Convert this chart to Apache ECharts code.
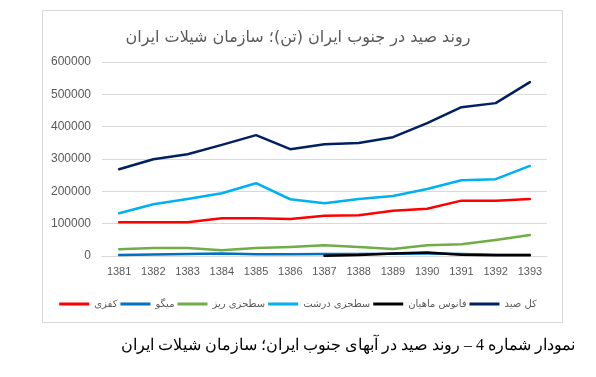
<!DOCTYPE html>
<html>
<head>
<meta charset="utf-8">
<script src="https://cdn.jsdelivr.net/npm/echarts@6/dist/echarts.min.js"></script>
<style>
html,body{margin:0;padding:0;background:#fff;}
#chart{width:596px;height:377px;}
</style>
</head>
<body>
<div id="chart"></div>
<script>
const categories = ['1381','1382','1383','1384','1385','1386','1387','1388','1389','1390','1391','1392','1393'];
const seriesNames = ['کفزی','میگو','سطحزی ریز','سطحزی درشت','فانوس ماهیان','کل صید'];
const kafzi   = [104300,104300,104300,116700,116700,114600,124800,126000,140200,146400,171200,171200,176500];
const meygu   = [3000,5000,6000,8000,5500,5500,6000,6000,7000,7500,6000,4000,4000];
const riz     = [20700,24800,24800,17600,24800,27900,33100,27900,21700,33100,36200,49500,65000];
const dorosht = [132200,160100,176500,194100,225100,175500,163200,176500,185800,207400,234400,237500,278600];
const fanus   = [null,null,null,null,null,null,1000,3000,8000,11000,4000,2000,2000];
const kol     = [268400,299400,314900,343700,373700,330300,345800,349800,367500,410800,460400,472800,537800];
const yTicks  = [0,100000,200000,300000,400000,500000,600000];
const colors  = ['#FF0000','#0070C0','#70AD47','#00B0F0','#000000','#002060'];
const title   = 'روند صید در جنوب ایران (تن)؛ سازمان شیلات ایران';
const caption = 'نمودار شماره 4 – روند صید در آبهای جنوب ایران؛ سازمان شیلات ایران';

const dataList = [kafzi, meygu, riz, dorosht, fanus, kol];
const chart = echarts.init(document.getElementById('chart'));
chart.setOption({
  animation: false,
  backgroundColor: '#fff',
  title: {
    text: title, left: 'center', top: 25,
    textStyle: {fontFamily: 'DejaVu Sans, Liberation Sans, sans-serif', fontSize: 16, fontWeight: 'normal', color: '#595959'}
  },
  graphic: [
    {type: 'rect', shape: {x: 42.5, y: 10.5, width: 520, height: 312}, style: {fill: 'none', stroke: '#d9d9d9', lineWidth: 1}, z: -1},
    {type: 'text', right: 21, top: 338, style: {text: caption, font: '16px "Liberation Serif", "DejaVu Serif", serif', fill: '#000', textAlign: 'right'}}
  ],
  legend: {
    left: 'center', top: 294,
    data: seriesNames,
    itemWidth: 30, itemHeight: 3, itemGap: 3,
    icon: 'rect',
    textStyle: {fontFamily: 'DejaVu Sans, Liberation Sans, sans-serif', fontSize: 10, color: '#595959'}
  },
  grid: {left: 102, right: 49, top: 62, bottom: 121},
  xAxis: {
    type: 'category', data: categories, boundaryGap: true,
    axisLine: {lineStyle: {color: '#d9d9d9'}},
    axisTick: {show: false},
    axisLabel: {color: '#595959', fontSize: 11, margin: 10, fontFamily: 'Liberation Sans, sans-serif', interval: 0}
  },
  yAxis: {
    type: 'value', min: yTicks[0], max: yTicks[yTicks.length - 1], interval: yTicks[1] - yTicks[0],
    axisLine: {show: false}, axisTick: {show: false},
    splitLine: {lineStyle: {color: '#d9d9d9'}},
    axisLabel: {color: '#595959', fontSize: 12, margin: 11, fontFamily: 'Liberation Sans, sans-serif', formatter: v => String(v)}
  },
  series: seriesNames.map((n, i) => ({
    name: n, type: 'line', data: dataList[i], showSymbol: false, symbol: 'none',
    lineStyle: {width: 2.5, color: colors[i], cap: 'round', join: 'round'},
    itemStyle: {color: colors[i]}
  }))
});
</script>
</body>
</html>
